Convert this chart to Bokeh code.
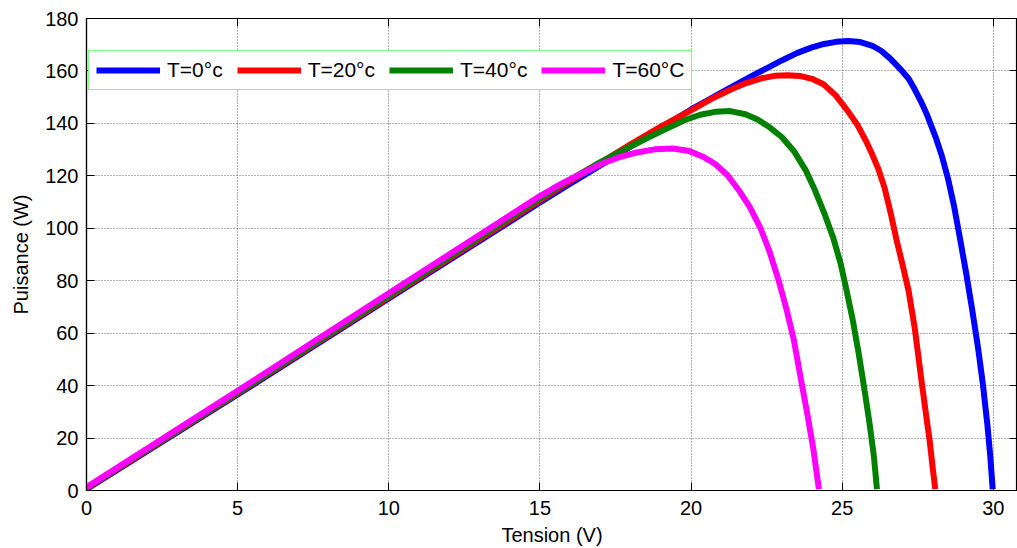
from bokeh.plotting import figure
from bokeh.models import Range1d, FixedTicker, LinearAxis, Legend, LegendItem
from bokeh.embed import file_html
from bokeh.resources import INLINE

# P-V characteristics of a PV module at four cell temperatures
v_0c = [0.0, 5.0, 10.0, 15.0, 16.0, 17.0, 18.0, 19.0, 20.0, 20.5, 21.0, 21.5, 22.0,
        22.5, 23.0, 23.5, 24.0, 24.4, 24.8, 25.2, 25.6, 26.0, 26.3, 26.6, 26.9, 27.2,
        27.4, 27.6, 27.8, 27.9, 28.1, 28.3, 28.5, 28.7, 28.9, 29.1, 29.3, 29.5, 29.65,
        29.8, 29.9, 29.98]
p_0c = [0.5, 36.6, 73.2, 109.8, 117.0, 124.0, 131.2, 138.3, 145.3, 148.5, 151.7, 154.9,
        158.0, 161.0, 164.0, 166.8, 169.0, 170.3, 171.1, 171.4, 171.0, 169.6, 167.6,
        164.6, 161.0, 157.0, 153.0, 148.5, 143.5, 140.5, 134.5, 127.5, 119.0, 108.5,
        96.0, 83.0, 69.0, 54.0, 41.0, 25.5, 13.0, 0.5]

v_20c = [0.0, 5.0, 10.0, 15.0, 16.0, 17.0, 18.0, 19.0, 20.0, 20.75, 21.3, 21.8, 22.3,
         22.8, 23.2, 23.6, 24.0, 24.4, 24.8, 25.2, 25.5, 25.8, 26.0, 26.2, 26.4, 26.6,
         26.8, 27.0, 27.2, 27.4, 27.6, 27.75, 27.9, 28.0, 28.08]
p_20c = [0.8, 37.0, 73.7, 110.6, 118.0, 125.0, 132.0, 138.8, 145.0, 149.8, 152.8, 155.3,
         157.1, 158.2, 158.4, 158.1, 157.0, 154.8, 150.5, 144.5, 139.5, 133.0, 128.0,
         122.5, 115.5, 106.0, 95.5, 86.0, 76.0, 62.0, 44.0, 31.0, 18.5, 8.0, 0.5]

v_40c = [0.0, 5.0, 10.0, 15.0, 16.0, 17.0, 18.0, 18.6, 19.2, 19.8, 20.3, 20.8, 21.3,
         21.8, 22.2, 22.6, 23.0, 23.4, 23.8, 24.1, 24.4, 24.7, 24.95, 25.15, 25.35,
         25.55, 25.75, 25.9, 26.05, 26.15]
p_40c = [1.0, 37.3, 74.2, 111.4, 118.6, 125.2, 131.2, 134.7, 138.0, 141.3, 143.3, 144.4,
         144.7, 143.5, 141.5, 138.5, 134.8, 129.5, 122.0, 114.5, 106.0, 96.5, 86.5, 76.0,
         65.0, 52.0, 37.5, 26.0, 13.0, 0.5]

v_60c = [0.0, 5.0, 10.0, 15.0, 15.7, 16.4, 17.0, 17.6, 18.2, 18.8, 19.4, 19.9, 20.4,
         20.8, 21.2, 21.6, 21.95, 22.3, 22.6, 22.9, 23.15, 23.4, 23.65, 23.85, 24.05,
         24.23]
p_60c = [1.2, 38.0, 75.2, 112.3, 116.9, 121.0, 124.4, 127.0, 128.9, 130.1, 130.4, 129.6,
         127.3, 124.5, 120.3, 114.2, 108.0, 100.0, 91.0, 80.0, 69.5, 57.5, 41.5, 29.0,
         15.5, 0.5]

labels = ["T=0°c", "T=20°c", "T=40°c", "T=60°C"]
colors = ["#0000FF", "#FF0000", "#008000", "#FF00FF"]
x_ticks = [0, 5, 10, 15, 20, 25, 30]
y_ticks = [0, 20, 40, 60, 80, 100, 120, 140, 160, 180]

FONT = "Liberation Sans"

p = figure(width=1017, height=548, output_backend="svg", toolbar_location=None,
           x_range=Range1d(0, 30.8), y_range=Range1d(0, 180),
           min_border_left=86, min_border_right=0, min_border_top=18,
           min_border_bottom=56)
p.background_fill_color = "white"
p.border_fill_color = "white"
p.outline_line_color = "black"
p.outline_line_width = 1.2

series = [(v_0c, p_0c), (v_20c, p_20c), (v_40c, p_40c), (v_60c, p_60c)]
renderers = []
for (vv, pp), c in zip(series, colors):
    r = p.line(vv, pp, line_color=c, line_width=6, line_join="round")
    renderers.append(r)

for ax in (p.xaxis[0], p.yaxis[0]):
    ax.major_tick_in = 8
    ax.major_tick_out = 0
    ax.minor_tick_in = 0
    ax.minor_tick_out = 0
    ax.axis_line_color = "black"
    ax.axis_line_width = 1.2
    ax.major_tick_line_color = "black"
    ax.major_label_text_font = FONT
    ax.major_label_text_font_size = "20px"
    ax.major_label_text_color = "black"
    ax.axis_label_text_font = FONT
    ax.axis_label_text_font_size = "20px"
    ax.axis_label_text_font_style = "normal"
    ax.axis_label_text_color = "black"

p.xaxis[0].ticker = FixedTicker(ticks=x_ticks)
p.yaxis[0].ticker = FixedTicker(ticks=y_ticks)
p.xaxis[0].axis_label = "Tension (V)"
p.yaxis[0].axis_label = "Puisance (W)"
p.xaxis[0].major_label_standoff = 10
p.yaxis[0].major_label_standoff = 8
p.xaxis[0].axis_label_standoff = 6
p.yaxis[0].axis_label_standoff = 10

# inward tick marks on the top and right edges, without labels
top = LinearAxis(ticker=FixedTicker(ticks=x_ticks), major_tick_in=8, major_tick_out=0,
                 minor_tick_in=0, minor_tick_out=0,
                 major_label_overrides={t: "" for t in x_ticks},
                 major_label_standoff=0, axis_line_color=None)
p.add_layout(top, "above")
right = LinearAxis(ticker=FixedTicker(ticks=y_ticks), major_tick_in=8, major_tick_out=0,
                   minor_tick_in=0, minor_tick_out=0,
                   major_label_overrides={t: "" for t in y_ticks},
                   major_label_standoff=0, axis_line_color=None)
p.add_layout(right, "right")

p.xgrid.ticker = FixedTicker(ticks=x_ticks)
p.ygrid.ticker = FixedTicker(ticks=y_ticks)
for g in (p.xgrid[0], p.ygrid[0]):
    g.grid_line_color = "#606060"
    g.grid_line_dash = "1 2"
    g.grid_line_width = 1

legend = Legend(items=[LegendItem(label=l, renderers=[r]) for l, r in zip(labels, renderers)],
                orientation="horizontal", location=(2, 400))
legend.border_line_color = "#00FF00"
legend.border_line_width = 1.5
legend.background_fill_color = "white"
legend.background_fill_alpha = 1
legend.label_text_font = FONT
legend.label_text_font_size = "21px"
legend.label_text_color = "black"
legend.glyph_width = 64
legend.glyph_height = 20
legend.label_height = 20
legend.label_standoff = 7
legend.spacing = 14
legend.padding = 7
legend.margin = 0
p.add_layout(legend, "center")

open("out.html", "w").write(file_html(p, INLINE))
